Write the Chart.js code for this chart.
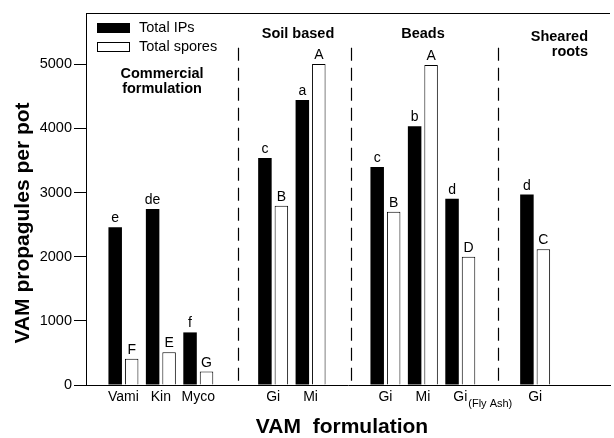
<!DOCTYPE html>
<html>
<head>
<meta charset="utf-8">
<script src="https://cdn.jsdelivr.net/npm/chart.js@4.4.0/dist/chart.umd.min.js"></script>
<style>
  body { margin: 0; background: #fff; }
</style>
</head>
<body>
<canvas id="chart" width="614" height="438"></canvas>
<script>
// slots on the x axis, empty ones are the spaces between formulation groups
const categories   = ['', 'Vami', 'Kin', 'Myco', '', 'Gi', 'Mi', '', 'Gi', 'Mi', 'Gi', '', 'Gi', '', ''];
const totalIPs     = [null, 2460, 2745, 820, null, 3540, 4445, null, 3400, 4035, 2905, null, 2970, null, null];
const totalSpores  = [null, 410, 510, 210, null, 2795, 5005, null, 2700, 4990, 2000, null, 2115, null, null];
const ipLetters    = ['', 'e', 'de', 'f', '', 'c', 'a', '', 'c', 'b', 'd', '', 'd', '', ''];
const sporeLetters = ['', 'F', 'E', 'G', '', 'B', 'A', '', 'B', 'A', 'D', '', 'C', '', ''];
const yTicks = [0, 1000, 2000, 3000, 4000, 5000];
const groupTitles = [['Commercial', 'formulation'], ['Soil based'], ['Beads'], ['Sheared', 'roots']];

const FONT = '"Liberation Sans", Arial, Helvetica, sans-serif';

const decorations = {
    id: 'decorations',
    afterDatasetsDraw(chart) {
        const ctx = chart.ctx;
        const area = chart.chartArea;
        const x = chart.scales.x, y = chart.scales.y;
        ctx.save();

        // top frame line
        ctx.strokeStyle = '#000';
        ctx.lineWidth = 1;
        ctx.beginPath();
        ctx.moveTo(area.left, area.top + 0.5);
        ctx.lineTo(area.right, area.top + 0.5);
        ctx.stroke();

        // dashed dividers between groups
        ctx.setLineDash([13, 7]);
        ctx.lineWidth = 1.2;
        [4.05, 7.08, 11.02].forEach(v => {
            const px = Math.round(x.getPixelForValue(v)) + 0.5;
            ctx.beginPath();
            ctx.moveTo(px, y.getPixelForValue(5260));
            ctx.lineTo(px, area.bottom);
            ctx.stroke();
        });
        ctx.setLineDash([]);

        // significance letters over bars
        ctx.fillStyle = '#000';
        ctx.font = '14px ' + FONT;
        ctx.textAlign = 'center';
        ctx.textBaseline = 'alphabetic';
        [ipLetters, sporeLetters].forEach((letters, d) => {
            chart.getDatasetMeta(d).data.forEach((bar, i) => {
                if (letters[i]) ctx.fillText(letters[i], bar.x, bar.y - 5);
            });
        });

        // group titles
        ctx.font = 'bold 14.5px ' + FONT;
        ctx.textBaseline = 'middle';
        ctx.textAlign = 'center';
        ctx.fillText(groupTitles[0][0], 162, 74);
        ctx.fillText(groupTitles[0][1], 162, 89);
        ctx.fillText(groupTitles[1][0], 298, 34);
        ctx.fillText(groupTitles[2][0], 423, 34);
        ctx.textAlign = 'right';
        ctx.fillText(groupTitles[3][0], 588, 37);
        ctx.fillText(groupTitles[3][1], 588, 52);

        // legend
        ctx.textAlign = 'left';
        ctx.font = '14.5px ' + FONT;
        chart.data.datasets.forEach((ds, i) => {
            const top = 23 + i * 19;
            ctx.fillStyle = ds.backgroundColor;
            ctx.fillRect(97, top, 33, 10);
            ctx.strokeStyle = '#000';
            ctx.lineWidth = 1;
            ctx.strokeRect(97.5, top + 0.5, 32, 9);
            ctx.fillStyle = '#000';
            ctx.fillText(ds.label, 139, top + 5);
        });

        // subscript on the fly ash label
        const gx = x.getPixelForValue(10);
        ctx.font = '14px ' + FONT;
        const gw = ctx.measureText('Gi').width;
        ctx.font = '11px ' + FONT;
        ctx.textBaseline = 'middle';
        ctx.fillText('(Fly Ash)', gx + gw / 2 + 1, 404);

        // axis titles
        ctx.font = 'bold 21px ' + FONT;
        ctx.textAlign = 'center';
        ctx.fillText('VAM  formulation', 342, 427);
        ctx.translate(23, 223);
        ctx.rotate(-Math.PI / 2);
        ctx.fillText('VAM propagules per pot', 0, 0);
        ctx.restore();
    }
};

new Chart(document.getElementById('chart'), {
    type: 'bar',
    data: {
        labels: categories,
        datasets: [{
            label: 'Total IPs',
            data: totalIPs,
            backgroundColor: '#000',
            borderWidth: 0
        }, {
            label: 'Total spores',
            data: totalSpores,
            backgroundColor: '#fff',
            borderColor: '#000',
            borderWidth: 1
        }]
    },
    options: {
        responsive: false,
        animation: false,
        categoryPercentage: 0.88,
        barPercentage: 0.82,
        layout: { padding: { top: 13, left: 0, right: 0, bottom: 0 } },
        plugins: {
            legend: { display: false },
            tooltip: { enabled: false }
        },
        scales: {
            x: {
                offset: false,
                grid: { display: false, drawTicks: false },
                border: { display: true, color: '#000', width: 1 },
                ticks: {
                    autoSkip: false,
                    maxRotation: 0,
                    padding: 4,
                    color: '#000',
                    font: { family: FONT, size: 14 }
                },
                afterFit: s => { s.height = 53; }
            },
            y: {
                min: 0,
                max: 5800,
                grid: { drawOnChartArea: false, drawTicks: true, tickLength: 12, color: '#000' },
                border: { display: true, color: '#000', width: 1 },
                ticks: {
                    padding: 2,
                    color: '#000',
                    font: { family: FONT, size: 14.5 },
                    callback: v => String(v)
                },
                afterBuildTicks: s => { s.ticks = yTicks.map(v => ({ value: v })); },
                afterFit: s => { s.width = 86; }
            }
        }
    },
    plugins: [decorations]
});
</script>
</body>
</html>
